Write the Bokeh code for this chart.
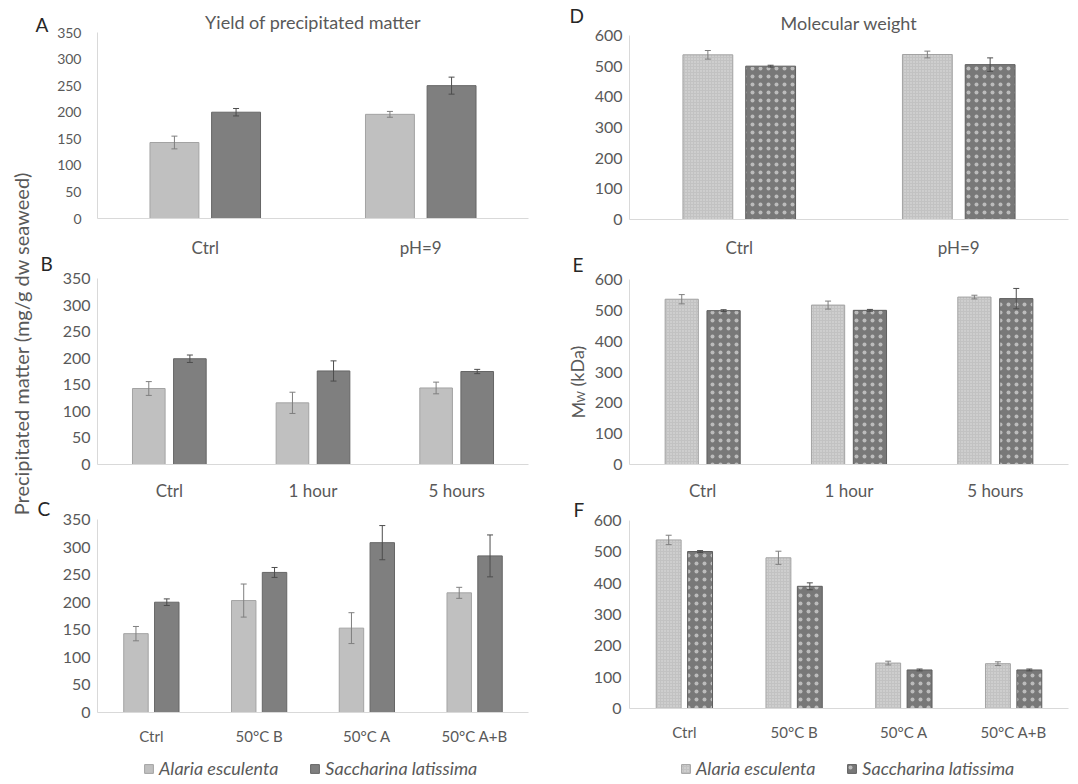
import math
from bokeh.plotting import figure
from bokeh.models import (ColumnDataSource, FactorRange, Range1d, FixedTicker,
                          Label, Legend, LegendItem)
from bokeh.transform import dodge
from bokeh.layouts import row, column
from bokeh.embed import file_html
from bokeh.resources import INLINE

# ---------------- data ----------------
species = ["Alaria esculenta", "Saccharina latissima"]

A_cats = ["Ctrl", "pH=9"]
A_alaria = [143, 196]
A_alaria_err = [12, 5.5]
A_sacch = [200, 250]
A_sacch_err = [7, 16]

B_cats = ["Ctrl", "1 hour", "5 hours"]
B_alaria = [143, 116, 144]
B_alaria_err = [13, 20, 11]
B_sacch = [199, 176, 175]
B_sacch_err = [7, 19, 4]

C_cats = ["Ctrl", "50°C B", "50°C A", "50°C A+B"]
C_alaria = [143, 203, 153, 217]
C_alaria_err = [13, 30, 28, 10]
C_sacch = [200, 254, 308, 284]
C_sacch_err = [6, 9, 31, 38]

D_cats = ["Ctrl", "pH=9"]
D_alaria = [537, 538]
D_alaria_err = [14, 11]
D_sacch = [500, 505]
D_sacch_err = [3, 22]

E_cats = ["Ctrl", "1 hour", "5 hours"]
E_alaria = [536, 517, 543]
E_alaria_err = [15, 13, 6]
E_sacch = [499, 500, 538]
E_sacch_err = [3, 3, 33]

F_cats = ["Ctrl", "50°C B", "50°C A", "50°C A+B"]
F_alaria = [538, 481, 145, 143]
F_alaria_err = [15, 21, 6, 6]
F_sacch = [501, 390, 123, 123]
F_sacch_err = [3, 11, 3, 3]

# ---------------- style ----------------
FONT = "Lato"
TXT = "#595959"
LETTER = "#262626"
AXIS = "#d9d9d9"
OFF = 0.143
BW = 0.227

PLAIN_A = dict(fill_color="#c0c0c0", line_color="#a3a3a3", line_width=1)
PLAIN_S = dict(fill_color="#7f7f7f", line_color="#666666", line_width=1)
HATCH_A = dict(fill_color="#c2c2c2", line_color="#a3a3a3", line_width=1,
               hatch_pattern="dot", hatch_scale=3, hatch_color="#ffffff",
               hatch_weight=0.5, hatch_alpha=0.5)
HATCH_S = dict(fill_color="#787878", line_color="#5e5e5e", line_width=1,
               hatch_pattern="dot", hatch_scale=8, hatch_color="#ffffff",
               hatch_weight=0.5, hatch_alpha=0.5)

TOP_H = 748      # height of the panel area
STRIP_H = 32     # legend strip below it


def bare_fig(width, height, **kw):
    f = figure(width=width, height=height, output_backend="svg", toolbar_location=None,
               min_border_left=0, min_border_right=0, min_border_top=0, min_border_bottom=0,
               x_axis_location=None, y_axis_location=None, **kw)
    f.grid.visible = False
    f.outline_line_color = None
    return f


def add_text(f, text, x, y, size, color=TXT, angle=0.0, align="left",
             baseline="middle"):
    f.add_layout(Label(x=x, y=TOP_H - y, x_units="screen", y_units="screen",
                       text=text, angle=angle, text_font=FONT, text_font_size=size,
                       text_color=color, text_align=align, text_baseline=baseline))


def panel(cats, a, ae, s, se, ymax, ystep, width, height, bl, br, bt, bb,
          cat_font, cat_standoff, tick_font, tick_standoff, title=None,
          title_standoff=0, hatch=False):
    p = figure(x_range=FactorRange(factors=cats), y_range=Range1d(0, ymax),
               width=width, height=height, output_backend="svg",
               toolbar_location=None, title=title,
               min_border_left=bl, min_border_right=br,
               min_border_top=bt, min_border_bottom=bb)
    src = ColumnDataSource(dict(
        cat=cats, a=a, s=s,
        a_lo=[v - e for v, e in zip(a, ae)], a_hi=[v + e for v, e in zip(a, ae)],
        s_lo=[v - e for v, e in zip(s, se)], s_hi=[v + e for v, e in zip(s, se)],
    ))
    xa = dodge("cat", -OFF, range=p.x_range)
    xs = dodge("cat", OFF, range=p.x_range)
    p.vbar(x=xa, top="a", width=BW, source=src, **(HATCH_A if hatch else PLAIN_A))
    p.vbar(x=xs, top="s", width=BW, source=src, **(HATCH_S if hatch else PLAIN_S))
    for xx, lo, hi, col in [(xa, "a_lo", "a_hi", "#7f7f7f"), (xs, "s_lo", "s_hi", "#4d4d4d")]:
        p.segment(x0=xx, y0=lo, x1=xx, y1=hi, source=src, line_color=col, line_width=1)
        p.scatter(x=xx, y=lo, source=src, marker="dash", size=6, line_color=col, line_width=1)
        p.scatter(x=xx, y=hi, source=src, marker="dash", size=6, line_color=col, line_width=1)

    p.grid.visible = False
    p.outline_line_color = None

    xa_ = p.xaxis[0]
    xa_.axis_line_color = AXIS
    xa_.major_tick_line_color = None
    xa_.minor_tick_line_color = None
    xa_.major_tick_out = 0
    xa_.major_tick_in = 0
    xa_.major_label_standoff = cat_standoff
    xa_.major_label_text_font = FONT
    xa_.major_label_text_font_size = f"{cat_font}px"
    xa_.major_label_text_color = TXT

    ya = p.yaxis[0]
    ya.ticker = FixedTicker(ticks=list(range(0, ymax + 1, ystep)))
    ya.axis_line_color = AXIS
    ya.major_tick_line_color = None
    ya.minor_tick_line_color = None
    ya.major_tick_out = 0
    ya.major_tick_in = 0
    ya.major_label_standoff = tick_standoff
    ya.major_label_text_font = FONT
    ya.major_label_text_font_size = f"{tick_font}px"
    ya.major_label_text_color = TXT

    if title:
        p.title.text_font = FONT
        p.title.text_font_size = "18px"
        p.title.text_font_style = "normal"
        p.title.text_color = TXT
        p.title.align = "center"
        p.title.standoff = title_standoff
    return p


# left column panels: 489 px wide, frame 96..528
LW, LBL, LBR = 489, 42, 15
# right column panels: 482 px wide, frame 629..1068
RW, RBL, RBR = 482, 41, 2

pA = panel(A_cats, A_alaria, A_alaria_err, A_sacch, A_sacch_err, 350, 50,
           LW, 260, LBL, LBR, 32, 40, 17, 18, 14, 16,
           title="Yield of precipitated matter", title_standoff=0)
pB = panel(B_cats, B_alaria, B_alaria_err, B_sacch, B_sacch_err, 350, 50,
           LW, 243, LBL, LBR, 18, 36, 17, 15, 16, 7)
pC = panel(C_cats, C_alaria, C_alaria_err, C_sacch, C_sacch_err, 350, 50,
           LW, 245, LBL, LBR, 16, 36, 15, 14, 16, 7)

pD = panel(D_cats, D_alaria, D_alaria_err, D_sacch, D_sacch_err, 600, 100,
           RW, 260, RBL, RBR, 35, 39, 17, 17, 16, 7,
           title="Molecular weight", title_standoff=4, hatch=True)
pE = panel(E_cats, E_alaria, E_alaria_err, E_sacch, E_sacch_err, 600, 100,
           RW, 243, RBL, RBR, 19, 36, 17, 15, 16, 7, hatch=True)
pF = panel(F_cats, F_alaria, F_alaria_err, F_sacch, F_sacch_err, 600, 100,
           RW, 245, RBL, RBR, 17, 40, 15, 14, 16, 8, hatch=True)

# left strip: shared y label and panel letters A-C (page x 0..54)
auxL = bare_fig(54, TOP_H)
add_text(auxL, "Precipitated matter (mg/g dw seaweed)", 20, 343, "20px",
         angle=math.pi / 2, align="center")
add_text(auxL, "A", 35, 24, "19px", color=LETTER)
add_text(auxL, "B", 40, 263, "19px", color=LETTER)
add_text(auxL, "C", 37, 508, "19px", color=LETTER)

# middle strip: letters D-F and the M_W (kDa) label (page x 543..588)
auxR = bare_fig(45, TOP_H)
add_text(auxR, "D", 26, 15, "19px", color=LETTER)
add_text(auxR, "E", 29, 264, "19px", color=LETTER)
add_text(auxR, "F", 30, 509, "19px", color=LETTER)
add_text(auxR, "M", 34, 418, "18px", angle=math.pi / 2, baseline="alphabetic")
add_text(auxR, "W", 37, 402, "11px", angle=math.pi / 2, baseline="alphabetic")
add_text(auxR, "(kDa)", 33, 386, "18px", angle=math.pi / 2, baseline="alphabetic")

# legend strip across the bottom; its proxy bars lie far outside the visible x/y ranges
strip = figure(x_range=Range1d(-100000, -99999), y_range=Range1d(-100000, -99999),
               width=1070, height=STRIP_H, output_backend="svg", toolbar_location=None,
               min_border_left=0, min_border_right=0, min_border_top=0, min_border_bottom=0,
               x_axis_location=None, y_axis_location=None)
strip.grid.visible = False
strip.outline_line_color = None
ls = ColumnDataSource(dict(ca=C_alaria, cs=C_sacch, fa=F_alaria, fs=F_sacch))
r_ca = strip.vbar(x="ca", top="ca", width=1, source=ls, **PLAIN_A)
r_cs = strip.vbar(x="cs", top="cs", width=1, source=ls, **PLAIN_S)
r_fa = strip.vbar(x="fa", top="fa", width=1, source=ls, **HATCH_A)
r_fs = strip.vbar(x="fs", top="fs", width=1, source=ls, **HATCH_S)
for (ra, rs), loc in [((r_ca, r_cs), (143, 1)), ((r_fa, r_fs), (680, 1))]:
    leg = Legend(items=[LegendItem(label=species[0], renderers=[ra]),
                        LegendItem(label=species[1], renderers=[rs])],
                 orientation="horizontal", location=loc,
                 label_text_font=FONT, label_text_font_style="italic",
                 label_text_font_size="18px", label_text_color=TXT,
                 glyph_width=11, glyph_height=11, label_standoff=5,
                 spacing=31, padding=0, margin=0, label_height=20,
                 border_line_alpha=0, background_fill_alpha=0)
    strip.add_layout(leg, "center")

left = column(pA, pB, pC)
right = column(pD, pE, pF)
layout = column(row(auxL, left, auxR, right), strip)

with open("out.html", "w") as f:
    f.write(file_html(layout, INLINE))
